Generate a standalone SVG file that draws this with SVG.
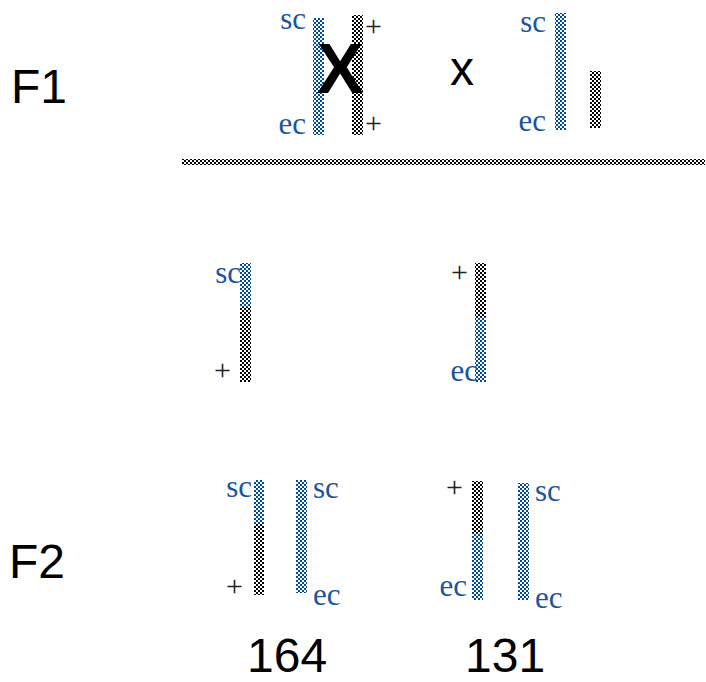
<svg xmlns="http://www.w3.org/2000/svg" width="706" height="682" viewBox="0 0 706 682">
<defs>
<pattern id="pb" width="4" height="4" patternUnits="userSpaceOnUse"><rect width="4" height="4" fill="#fff"/><rect width="2" height="2" fill="#004a9c"/><rect x="2" y="2" width="2" height="2" fill="#004a9c"/></pattern>
<pattern id="pk" width="4" height="4" patternUnits="userSpaceOnUse"><rect width="4" height="4" fill="#fff"/><rect width="2" height="2" fill="#000"/><rect x="2" y="2" width="2" height="2" fill="#000"/></pattern>
</defs>
<style>
.b{fill:url(#pb)}
.k{fill:url(#pk)}
.s{font-family:"Liberation Serif","Times New Roman",serif;font-size:31px;fill:#1a559f}
.p{font-family:"Liberation Serif","Times New Roman",serif;font-size:30px;fill:#222}
.a{font-family:"Liberation Sans",Arial,sans-serif;font-size:48px;fill:#000}
.e{text-anchor:end}
</style>
<rect width="706" height="682" fill="#fff"/>
<g id="labels">
<text class="a" x="11" y="103">F1</text>
<text class="a" x="9" y="578">F2</text>
<text class="a" x="247" y="672">164</text>
<text class="a" x="465" y="672">131</text>
</g>
<g id="f1-left">
<rect class="b" x="313" y="18" width="11" height="117"/>
<rect class="k" x="352" y="15" width="11" height="120"/>
<text x="340" y="93" text-anchor="middle" style="font-family:'Liberation Sans',Arial,sans-serif;font-size:70px;font-weight:bold;fill:#000">X</text>
<text class="s e" x="306" y="29">sc</text>
<text class="s e" x="306" y="134">ec</text>
<text class="p" x="365" y="36">+</text>
<text class="p" x="365" y="133">+</text>
</g>
<g id="cross">
<text class="a" x="450" y="85">x</text>
</g>
<g id="f1-right">
<rect class="b" x="555" y="13" width="11" height="117"/>
<rect class="k" x="590" y="71" width="11" height="57"/>
<text class="s e" x="546" y="32">sc</text>
<text class="s e" x="546" y="131">ec</text>
</g>
<g id="line">
<rect class="k" x="182" y="159" width="523" height="6"/>
</g>
<g id="gamete-left">
<rect class="b" x="240" y="263" width="11" height="44"/>
<rect class="k" x="240" y="307" width="11" height="75"/>
<text class="s e" x="241" y="283">sc</text>
<text class="p" x="214" y="380">+</text>
</g>
<g id="gamete-right">
<rect class="k" x="475" y="263" width="11" height="54"/>
<rect class="b" x="475" y="317" width="11" height="65"/>
<text class="p" x="451" y="282">+</text>
<text class="s e" x="478" y="381">ec</text>
</g>
<g id="f2-left">
<rect class="b" x="254" y="480" width="10" height="44"/>
<rect class="k" x="254" y="524" width="10" height="71"/>
<rect class="b" x="296" y="480" width="11" height="113"/>
<text class="s e" x="252" y="497">sc</text>
<text class="p" x="226" y="596">+</text>
<text class="s" x="313" y="498">sc</text>
<text class="s" x="313" y="605">ec</text>
</g>
<g id="f2-right">
<rect class="k" x="472" y="481" width="11" height="52"/>
<rect class="b" x="472" y="533" width="11" height="67"/>
<rect class="b" x="518" y="483" width="11" height="117"/>
<text class="p" x="446" y="497">+</text>
<text class="s e" x="467" y="596">ec</text>
<text class="s" x="535" y="501">sc</text>
<text class="s" x="535" y="608">ec</text>
</g>
<g id="connectors"></g>
</svg>
